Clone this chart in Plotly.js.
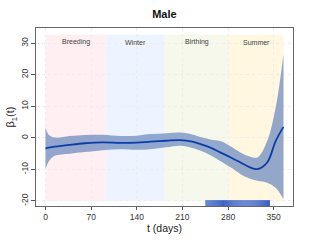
<!DOCTYPE html>
<html><head><meta charset="utf-8">
<script src="https://cdn.plot.ly/plotly-3.0.1.min.js"></script>
<style>html,body{margin:0;padding:0;background:#fff;}#chart{width:312px;height:242px;}</style>
</head><body><div id="chart"></div>
<script>
const days  = [0, 5, 14, 37, 60, 88, 115, 140, 161, 185, 207, 225, 238, 253, 268, 285, 299, 312, 325, 340, 353, 365];
const beta  = [-3.3,-3.1,-2.8,-2.2,-1.7,-1.4,-1.6,-1.5,-1.2,-0.9,-0.7,-1.2,-2.0,-3.1,-4.6,-6.3,-7.8,-9.2,-9.9,-7.8,-1.0,3.5];
const upper = [3.3,1.0,0.1,0.6,0.9,1.0,0.6,0.7,1.2,1.5,1.7,1.1,0.3,-0.5,-1.0,-2.8,-4.6,-5.8,-6.2,-1.0,9.6,26.5];
const lower = [-9.9,-7.5,-5.7,-5.0,-4.5,-3.9,-3.6,-3.8,-3.6,-3.0,-2.5,-3.2,-4.1,-5.5,-7.3,-9.5,-11.5,-12.8,-13.6,-14.2,-15.8,-19.4];
const seasonNames = ["Breeding","Winter","Birthing","Summer"];
const seasonStart = [0, 92, 183, 281];
const seasonEnd   = [92, 183, 281, 365];
const seasonColors = ["#ffeef2","#eef4ff","#f5f8ea","#fff7e0"];
const seasonLow = -20, seasonHigh = 32.7;
const rugDays = [246,247.5,249,250.5,252,253.5,255,256.5,258,259.5,261,262.5,264,265.5,267,268.5,270,271.5,273,274.5,276,277.5,279,280.5,282,283.5,285,286.5,288,289.5,291,292.5,294,295.5,297,298.5,300,301.5,303,304.5,306,307.5,309,310.5,312,313.5,315,316.5,318,319.5,321,322.5,324,325.5,327,328.5,330,331.5,333,334.5,336,337.5,339,340.5,342,343.5];
const xTicks = [0,70,140,210,280,350];
const yTicks = [-20,-10,0,10,20,30];
const FONT = 'Liberation Sans, Arial, sans-serif';

const shapes = seasonNames.map((n,i)=>({type:'rect',xref:'x',yref:'y',x0:seasonStart[i],x1:seasonEnd[i],y0:seasonLow,y1:seasonHigh,fillcolor:seasonColors[i],line:{width:0},layer:'below'}));
const annotations = seasonNames.map((n,i)=>({x:(seasonStart[i]+seasonEnd[i])/2,y:30.4,xref:'x',yref:'y',text:n,showarrow:false,font:{family:FONT,size:7,color:'#444'}}));
annotations.push({xref:'paper',yref:'paper',x:0.5,y:-0.125,yanchor:'middle',xanchor:'center',text:'t (days)',showarrow:false,font:{family:FONT,size:10.5,color:'#222'}});

const traces = [
 {x:days,y:lower,mode:'lines',line:{width:0,shape:'spline'},hoverinfo:'skip',showlegend:false},
 {x:days,y:upper,mode:'lines',fill:'tonexty',fillcolor:'rgba(118,145,195,0.78)',line:{width:0,shape:'spline'},hoverinfo:'skip',showlegend:false},
 {x:days,y:beta,mode:'lines',line:{color:'#0b3ea6',width:1.8,shape:'spline'},showlegend:false},
 {x:rugDays,y:rugDays.map(()=>-20.85),mode:'markers',marker:{symbol:'line-ns-open',size:5,color:'#3d63c4',line:{color:'#3d63c4',width:1}},showlegend:false}
];

const layout = {
 width:312,height:242,
 margin:{l:36,r:19,t:28,b:36},
 paper_bgcolor:'#fff',plot_bgcolor:'#fff',
 title:{text:'<b>Male</b>',x:0.527,xanchor:'center',y:0.943,yanchor:'middle',font:{family:FONT,size:11,color:'#111'}},
 xaxis:{range:[-14.6,379.6],tickvals:xTicks,ticktext:xTicks.map(String),ticks:'outside',ticklen:3,tickcolor:'#555',
   showline:true,mirror:true,linecolor:'#666',linewidth:1,showgrid:true,gridcolor:'#ededed',griddash:'dot',zeroline:false,
   tickfont:{family:FONT,size:8.5,color:'#333'}},
 yaxis:{range:[-21.6,34.85],tickvals:yTicks,ticktext:yTicks.map(String),ticks:'outside',ticklen:4,tickcolor:'#555',tickangle:-90,
   showline:true,mirror:true,linecolor:'#666',linewidth:1,showgrid:true,gridcolor:'#ededed',griddash:'dot',zeroline:false,
   tickfont:{family:FONT,size:8.5,color:'#333'},
   title:{text:'β<sub>1</sub>(t)',standoff:2,font:{family:FONT,size:11,color:'#222'}}},
 shapes:shapes,annotations:annotations
};
Plotly.newPlot('chart',traces,layout,{staticPlot:true,displayModeBar:false});
</script></body></html>
